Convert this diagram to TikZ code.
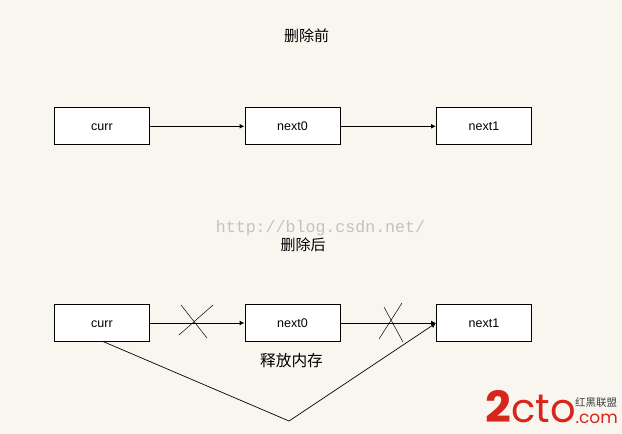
\documentclass[tikz,border=0pt]{standalone}
\usepackage{fontspec}
\setmainfont{Liberation Sans}
\newfontfamily\cjk{Noto Sans CJK SC}
\newfontfamily\wm{Liberation Mono}
\newfontfamily\logo{Poppins}
\usetikzlibrary{arrows.meta}
\definecolor{bgc}{HTML}{F9F6F0}
\definecolor{logored}{HTML}{D9261C}
\begin{document}
\begin{tikzpicture}[x=1pt,y=-1pt,
  listbox/.style={draw=black,fill=white,line width=1pt,minimum width=95pt,minimum height=37pt,inner sep=0pt,text height=8.6pt,text depth=0pt,font=\fontsize{12.5}{14}\selectfont,anchor=center},
  link/.style={draw=black,line width=1pt,-{Latex[length=5pt,width=5pt]}},
  crossmark/.style={draw=black,line width=0.5pt},
  captext/.style={font=\fontsize{15}{17}\cjk\selectfont,inner sep=0pt}]
\fill[bgc] (0,0) rectangle (622,434);
\useasboundingbox (0,0) rectangle (622,434);
\node[captext] (t1) at (306.5,36) {删除前};
\node[listbox] (a1) at (102,126.3) {curr};
\node[listbox] (a2) at (292.5,126.3) {next0};
\node[listbox] (a3) at (484,126.3) {next1};
\draw[link] (a1) -- (a2);
\draw[link] (a2) -- (a3);
\node[font=\fontsize{16.6}{20}\wm\selectfont,text=black!24,inner sep=0pt] (w) at (320.5,228) {http://blog.csdn.net/};
\node[captext] (t2) at (303,244.5) {删除后};
\node[listbox] (b1) at (102,323) {curr};
\node[listbox] (b2) at (292.5,323) {next0};
\node[listbox] (b3) at (484,323) {next1};
\draw[link] (b1) -- (b2);
\draw[link] (b2) -- (b3);
\node[captext,font=\fontsize{15.7}{17}\cjk\selectfont] (t3) at (291.5,360.5) {释放内存};
\coordinate (v) at (289,421);
\coordinate (s) at (103,341.5);
\draw[link,line width=0.7pt] (s) -- (v) -- (b3.west);
\draw[crossmark] (181,305) -- (207,338);
\draw[crossmark] (179,335) -- (213,305);
\draw[crossmark] (384,307) -- (403,342);
\draw[crossmark] (379,339) -- (402,303);
\node[font=\fontsize{43}{43}\logo\bfseries\selectfont,text=logored,inner sep=0pt,anchor=base west,xscale=1.05,text height=30pt,text depth=0pt] (l1) at (485,422) {2};
\node[font=\fontsize{40}{40}\logo\selectfont,text=logored,inner sep=0pt,anchor=base west,text height=25pt,text depth=0pt] (l2) at (511,422) {cto};
\node[font=\fontsize{10.5}{12}\cjk\selectfont,text=black!75,inner sep=0pt,text height=8pt,text depth=1pt] (l3) at (596,403) {红黑联盟};
\node[font=\fontsize{17}{18}\logo\selectfont,text=logored,inner sep=0pt,anchor=base east,text height=9pt,text depth=0pt] (l4) at (618,423) {.com};
\end{tikzpicture}
\end{document}
